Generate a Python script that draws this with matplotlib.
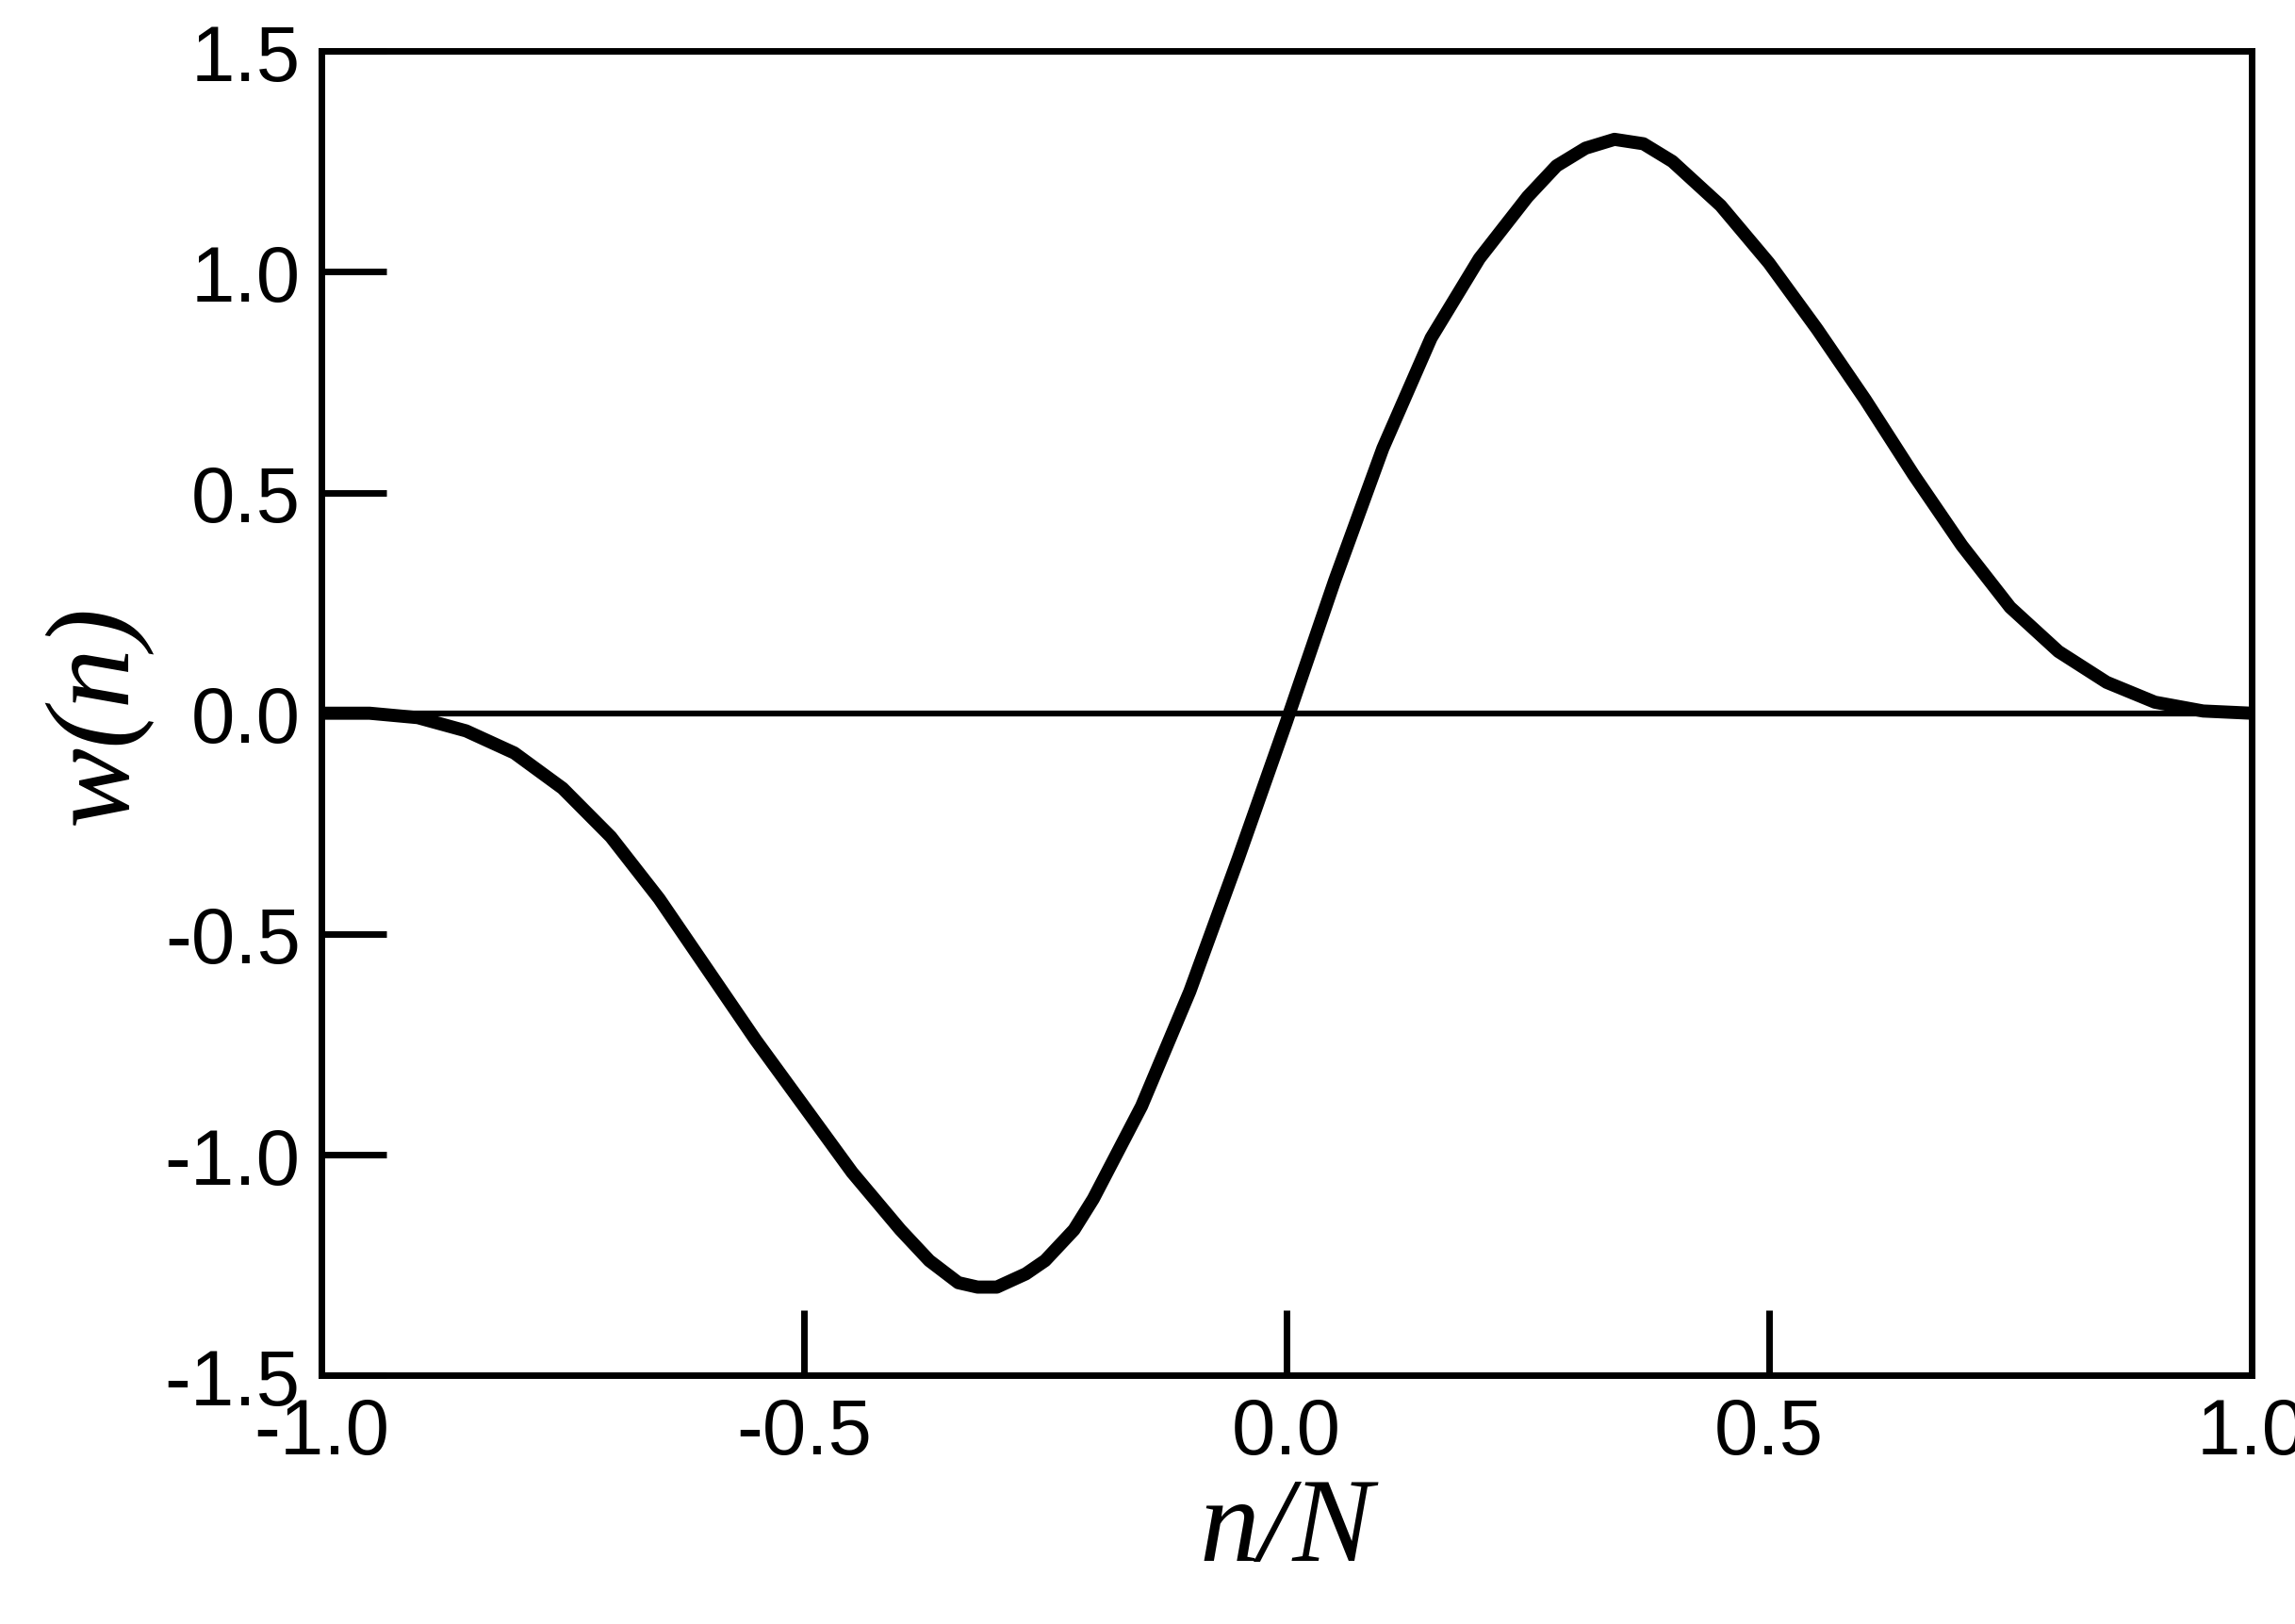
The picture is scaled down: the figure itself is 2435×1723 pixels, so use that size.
import matplotlib
matplotlib.use("Agg")
import matplotlib.pyplot as plt

x_vals = [-1.0, -0.95, -0.9, -0.85, -0.8, -0.75, -0.7, -0.65, -0.6, -0.55, -0.5, -0.45, -0.4, -0.37, -0.34, -0.32,
          -0.3, -0.27, -0.25, -0.22, -0.2, -0.15, -0.1, -0.05, 0.0, 0.05, 0.1, 0.15, 0.2, 0.25, 0.28, 0.31, 0.34, 0.37, 0.4,
          0.45, 0.5, 0.55, 0.6, 0.65, 0.7, 0.75, 0.8, 0.85, 0.9, 0.95, 1.0]
w_vals = [0.0, 0.0, -0.01, -0.04, -0.09, -0.17, -0.28, -0.42, -0.58, -0.74, -0.89, -1.04, -1.17, -1.24, -1.29, -1.30,
          -1.30, -1.27, -1.24, -1.17, -1.10, -0.89, -0.63, -0.33, -0.02, 0.30, 0.60, 0.85, 1.03, 1.17, 1.24, 1.28, 1.30, 1.29, 1.25,
          1.15, 1.02, 0.87, 0.71, 0.54, 0.38, 0.24, 0.14, 0.07, 0.025, 0.005, 0.0]
x_ticks = [-1.0, -0.5, 0.0, 0.5, 1.0]
y_ticks = [-1.5, -1.0, -0.5, 0.0, 0.5, 1.0, 1.5]

fig = plt.figure(figsize=(24.35, 17.24), dpi=100)
ax = fig.add_axes([0.14, 0.153, 0.841, 0.815])
ax.axhline(0, color='black', lw=4.5)
ax.plot(x_vals, w_vals, color='black', lw=10, solid_joinstyle='round', solid_capstyle='round')
ax.set_xlim(-1, 1)
ax.set_ylim(-1.5, 1.5)
ax.set_xticks(x_ticks)
ax.set_yticks(y_ticks)
ax.set_xticklabels([f"{v:.1f}" for v in x_ticks])
ax.set_yticklabels([f"{v:.1f}" for v in y_ticks])
ax.tick_params(direction='in', length=50, width=5, labelsize=60, pad=16)
for lab in ax.get_xticklabels() + ax.get_yticklabels():
    lab.set_family('Liberation Sans')
for s in ax.spines.values():
    s.set_linewidth(5)
ax.set_xlabel('n/N', family='Liberation Serif', style='italic', fontsize=92, labelpad=5)
ax.set_ylabel('w(n)', family='Liberation Serif', style='italic', fontsize=92, labelpad=10)
fig.savefig('out.png', dpi=100)
